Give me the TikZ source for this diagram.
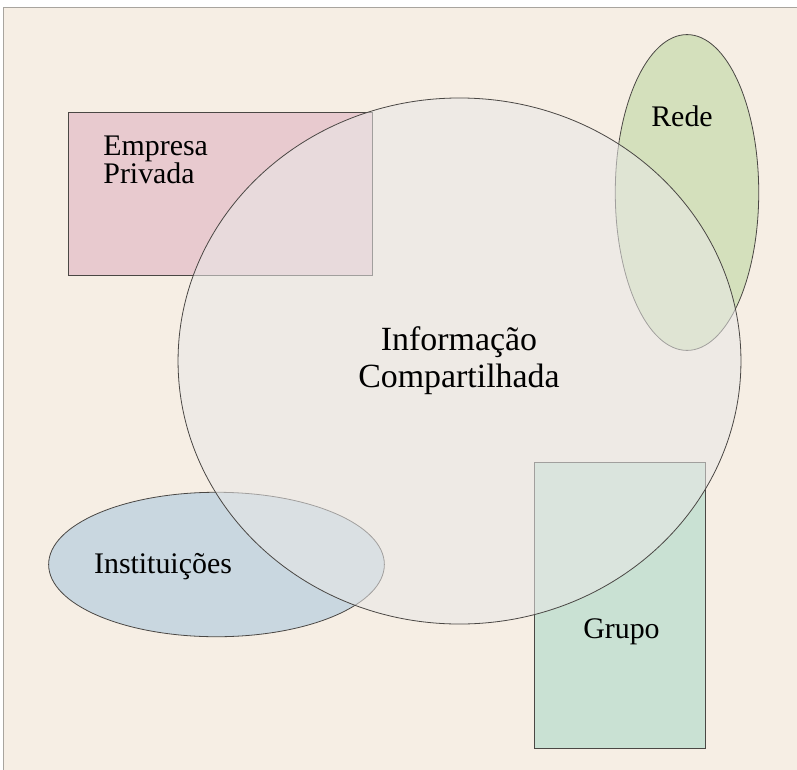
\documentclass[tikz,border=0pt]{standalone}
\usepackage{fontspec}
\setmainfont{Liberation Serif}
\usetikzlibrary{shapes.geometric}

\definecolor{paper}{HTML}{F6EEE4}
\definecolor{frameline}{HTML}{A8A49E}
\definecolor{outline}{HTML}{4A4744}
\definecolor{pinkfill}{HTML}{E8CACF}
\definecolor{bluefill}{HTML}{C9D7E0}
\definecolor{olivefill}{HTML}{D4E0BC}
\definecolor{mintfill}{HTML}{C9E1D3}
\definecolor{sharedfill}{HTML}{E9E8E7}

\begin{document}
\begin{tikzpicture}[
  x = 1bp,
  y = -1bp,
  line width = 0.8bp,
  set/.style = {draw = outline, inner sep = 0pt, outer sep = 0pt},
  box/.style = {set, rectangle},
  oval/.style = {set, ellipse},
  label text/.style = {inner sep = 0pt, font = \fontsize{30}{28}\selectfont},
  ]

  \useasboundingbox (0, 0) rectangle (797, 770);

  \fill [white] (0, 0) rectangle (797, 770);

  \filldraw [fill = paper, draw = frameline] (797, 7) -- (3, 7) -- (3, 770) -- (797, 770);

  \node at (220.5, 194)
  [box, fill = pinkfill, minimum width = 305, minimum height = 164, name = EmpresaPrivada] {};

  \node at (687, 192.5)
  [oval, fill = olivefill, minimum width = 144, minimum height = 317, name = Rede] {};

  \node at (216.5, 564.5)
  [oval, fill = bluefill, minimum width = 337, minimum height = 145, name = Instituicoes] {};

  \node at (620, 605.5)
  [box, fill = mintfill, minimum width = 172, minimum height = 287, name = Grupo] {};

  \node at (459.5, 361)
  [oval, fill = sharedfill, fill opacity = 0.55, minimum width = 565, minimum height = 528, name = Informacao] {};

  \node at (103, 136)
  [label text, anchor = north west, align = left, name = EmpresaPrivadaText] {Empresa\\Privada};

  \node at (682, 126)
  [label text, anchor = base, name = RedeText] {Rede};

  \node at (163, 573)
  [label text, anchor = base, name = InstituicoesText] {Instituições};

  \node at (621.5, 638)
  [label text, anchor = base, name = GrupoText] {Grupo};

  \node at (459, 361)
  [label text, font = \fontsize{34}{37}\selectfont, align = center, name = InformacaoText] {Informação\\Compartilhada};

\end{tikzpicture}
\end{document}
